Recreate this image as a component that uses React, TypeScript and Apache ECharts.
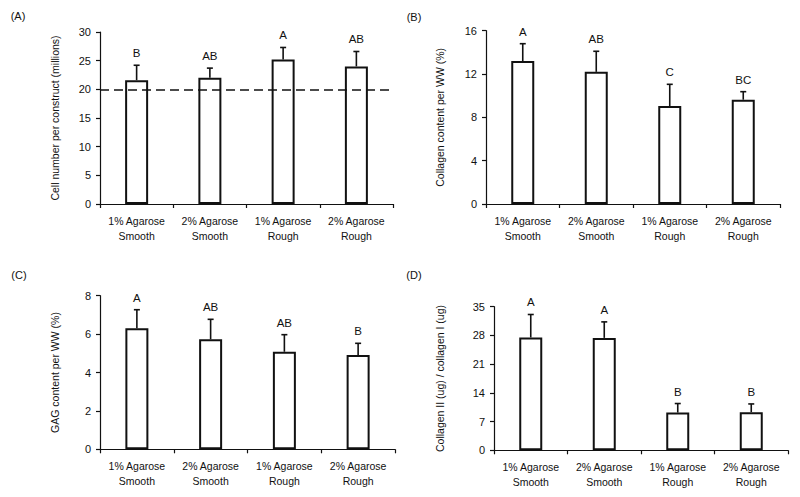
import React, { useEffect, useRef } from "react";
import * as echarts from "echarts";

const categories = ["1% Agarose\nSmooth", "2% Agarose\nSmooth", "1% Agarose\nRough", "2% Agarose\nRough"];

const cellNumber = [21.6, 22.0, 25.2, 24.0];
const cellNumberSD = [2.6, 1.7, 2.1, 2.6];
const cellLetters = ["B", "AB", "A", "AB"];
const cellTicks = { min: 0, max: 30, interval: 5 };
const cellTarget = 20;

const collagen = [13.2, 12.2, 9.05, 9.63];
const collagenSD = [1.6, 1.9, 2.0, 0.74];
const collagenLetters = ["A", "AB", "C", "BC"];
const collagenTicks = { min: 0, max: 16, interval: 4 };

const gag = [6.3, 5.73, 5.08, 4.91];
const gagSD = [0.97, 1.04, 0.89, 0.61];
const gagLetters = ["A", "AB", "AB", "B"];
const gagTicks = { min: 0, max: 8, interval: 2 };

const ratio = [27.5, 27.4, 9.2, 9.3];
const ratioSD = [5.6, 3.9, 2.2, 2.0];
const ratioLetters = ["A", "A", "B", "B"];
const ratioTicks = { min: 0, max: 35, interval: 7 };

const panelNames = ["(A)", "(B)", "(C)", "(D)"];
const yNames = [
  "Cell number per construct (millions)",
  "Collagen content per WW (%)",
  "GAG content per WW (%)",
  "Collagen II (ug) / collagen I (ug)",
];

const FONT = "Liberation Sans, Arial, sans-serif";
const INK = "#111";

export default function App() {
  const ref = useRef<HTMLDivElement>(null);
  useEffect(() => {
    if (!ref.current) return;
    const chart = echarts.init(ref.current, undefined, { renderer: "svg" });

    const panels = [
      { vals: cellNumber, sd: cellNumberSD, letters: cellLetters, ticks: cellTicks, grid: { left: 100, top: 32, width: 293, height: 172 }, gap: 40 },
      { vals: collagen, sd: collagenSD, letters: collagenLetters, ticks: collagenTicks, grid: { left: 486, top: 30.7, width: 294, height: 173.3 }, gap: 41 },
      { vals: gag, sd: gagSD, letters: gagLetters, ticks: gagTicks, grid: { left: 100, top: 295.7, width: 295, height: 153.6 }, gap: 40 },
      { vals: ratio, sd: ratioSD, letters: ratioLetters, ticks: ratioTicks, grid: { left: 494, top: 306.7, width: 294, height: 143.6 }, gap: 49 },
    ];

    const grids: any[] = [];
    const xAxes: any[] = [];
    const yAxes: any[] = [];
    const series: any[] = [];

    panels.forEach((p, gi) => {
      grids.push({ ...p.grid, containLabel: false });
      xAxes.push({
        type: "category",
        gridIndex: gi,
        data: categories,
        boundaryGap: true,
        axisLine: { lineStyle: { color: INK, width: 1.2 } },
        axisTick: { show: true, length: 4, lineStyle: { color: INK, width: 1.2 } },
        axisLabel: { color: INK, fontFamily: FONT, fontSize: 10.5, lineHeight: 15, margin: 9, interval: 0 },
        splitLine: { show: false },
      });
      yAxes.push({
        type: "value",
        gridIndex: gi,
        min: p.ticks.min,
        max: p.ticks.max,
        interval: p.ticks.interval,
        name: yNames[gi],
        nameLocation: "middle",
        nameGap: p.gap,
        nameTextStyle: { color: INK, fontFamily: FONT, fontSize: 10.5 },
        axisLine: { show: true, lineStyle: { color: INK, width: 1.2 } },
        axisTick: { show: true, length: 4, lineStyle: { color: INK, width: 1.2 } },
        axisLabel: { color: INK, fontFamily: FONT, fontSize: 11, margin: 9 },
        splitLine: { show: false },
      });
      const barSeries: any = {
        type: "bar",
        xAxisIndex: gi,
        yAxisIndex: gi,
        data: p.vals,
        barWidth: 23,
        itemStyle: { color: "#fff", borderColor: INK, borderWidth: 2 },
        silent: true,
      };
      if (gi === 0) {
        barSeries.markLine = {
          silent: true,
          symbol: "none",
          label: { show: false },
          lineStyle: { color: INK, type: [9, 5], width: 1.5 },
          data: [{ yAxis: cellTarget }],
        };
      }
      series.push(barSeries);
      const letters = p.letters;
      series.push({
        type: "custom",
        xAxisIndex: gi,
        yAxisIndex: gi,
        data: p.vals.map((v, i) => [i, v + p.sd[i], v]),
        encode: { x: 0, y: 1 },
        z: 5,
        renderItem: (params: any, api: any) => {
          const i = api.value(0);
          const top = api.coord([i, api.value(1)]);
          const base = api.coord([i, api.value(2)]);
          const x = base[0];
          const ls = { stroke: INK, lineWidth: 1.6 };
          return {
            type: "group",
            children: [
              { type: "line", shape: { x1: x, y1: base[1], x2: x, y2: top[1] }, style: ls },
              { type: "line", shape: { x1: x - 3, y1: top[1], x2: x + 3, y2: top[1] }, style: ls },
              {
                type: "text",
                style: {
                  text: letters[params.dataIndex],
                  x: x,
                  y: top[1] - 6,
                  textAlign: "center",
                  textVerticalAlign: "bottom",
                  verticalAlign: "bottom",
                  fill: INK,
                  font: `11.5px ${FONT}`,
                },
              },
            ],
          };
        },
      });
    });

    const labelPos = [
      [18, 16],
      [414, 17],
      [19, 275],
      [414, 275],
    ];

    chart.setOption({
      animation: false,
      backgroundColor: "#fff",
      grid: grids,
      xAxis: xAxes,
      yAxis: yAxes,
      series,
      graphic: panelNames.map((t, i) => ({
        type: "text",
        x: labelPos[i][0],
        y: labelPos[i][1],
        style: { text: t, fill: INK, font: `11px ${FONT}`, textAlign: "center", textVerticalAlign: "middle", verticalAlign: "middle" },
      })),
    });
    return () => chart.dispose();
  }, []);
  return <div ref={ref} style={{ position: "fixed", left: 0, top: 0, width: 800, height: 497 }} />;
}
